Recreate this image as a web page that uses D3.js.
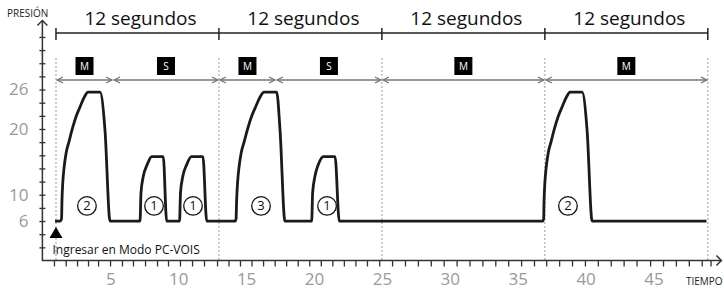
<!DOCTYPE html>
<html>
<head>
<meta charset="utf-8">
<script src="https://cdn.jsdelivr.net/npm/d3@7"></script>
<style>
  body { margin: 0; background: #fff; }
  svg { display: block; font-family: "Open Sans", sans-serif; }
</style>
</head>
<body>
<div id="chart"></div>
<script>
// presion (cmH2O) vs tiempo (s)
const waveT = [0.93, 1.30, 1.41, 1.44, 1.50, 1.60, 1.75, 1.95, 2.20, 2.50, 2.80, 3.10, 3.36, 4.24, 4.61, 4.98,
  7.19, 7.26, 7.43, 7.72, 8.05, 8.90, 9.15,
  10.10, 10.17, 10.34, 10.63, 10.97, 11.82, 12.10,
  14.20, 14.26, 14.30, 14.37, 14.48, 14.64, 14.85, 15.11, 15.42, 15.73, 16.04, 16.32, 17.25, 17.50, 17.86,
  19.83, 19.90, 20.07, 20.32, 20.69, 21.55, 21.86,
  36.85, 36.91, 36.94, 37.00, 37.10, 37.25, 37.45, 37.70, 38.00, 38.30, 38.60, 38.86, 39.74, 40.11, 40.48,
  48.90];
const waveP = [6, 6, 6.3, 9.0, 11.8, 14.2, 16.4, 18.0, 20.0, 22.0, 23.5, 24.9, 25.6, 25.6, 19.8, 6,
  6, 10.3, 12.8, 14.6, 15.8, 15.8, 6,
  6, 10.3, 12.8, 14.6, 15.8, 15.8, 6,
  6, 6.3, 9.0, 11.8, 14.2, 16.4, 18.0, 20.0, 22.0, 23.5, 24.9, 25.6, 25.6, 19.8, 6,
  6, 10.3, 12.8, 14.6, 15.8, 15.8, 6,
  6, 6.3, 9.0, 11.8, 14.2, 16.4, 18.0, 20.0, 22.0, 23.5, 24.9, 25.6, 25.6, 19.8, 6,
  6];

const cycleEdges = [1, 13, 25, 37, 49];
const cycleLabels = ["12 segundos", "12 segundos", "12 segundos", "12 segundos"];

const modeStart = [1, 5.2, 13, 17.2, 25, 37];
const modeEnd = [5.2, 13, 17.2, 25, 37, 49];
const modeName = ["M", "S", "M", "S", "M", "M"];

const breathT = [3.28, 8.22, 11.09, 16.1, 20.96, 38.7];
const breathNum = ["2", "1", "1", "3", "1", "2"];
const breathP = 8.3;

const xLabels = [5, 10, 15, 20, 25, 30, 35, 40, 45];
const xMinor = [0.85, 1.72, 2.55, 3.36, 4.10, 4.98, 5.86, 6.67, 7.56, 8.44, 9.25, 10.13, 11.02, 11.9, 12.86,
  13.7, 14.55, 15.4, 16.25, 17.1, 17.95, 18.8, 19.65, 20.5, 21.35, 22.2, 23.05, 23.9, 24.8,
  25.75, 26.7, 27.65, 28.6, 29.55, 30.5, 31.45, 32.4, 33.35, 34.3, 35.25, 36.2, 37.1,
  38.05, 39.0, 39.95, 40.9, 41.85, 42.8, 43.75, 44.75, 45.7, 46.65, 47.6, 48.55, 49.2];
const yLabels = [6, 10, 20, 26];
const yMinor = [2, 4, 6, 8, 10, 12, 14, 16, 18, 20, 22, 24, 26, 28, 30, 32, 34];

const W = 724, H = 290;
const svg = d3.select("#chart").append("svg").attr("width", W).attr("height", H);

const x = d3.scaleLinear().domain([0, 50]).range([42.4, 721.4]);
const y = d3.scaleLinear().domain([0, 36.5]).range([260.5, 20.5]);

const axisColor = "#333";

// markers
const defs = svg.append("defs");
defs.append("marker").attr("id", "arr")
  .attr("viewBox", "0 0 10 10").attr("refX", 9).attr("refY", 5)
  .attr("markerWidth", 5).attr("markerHeight", 5).attr("orient", "auto-start-reverse")
  .append("path").attr("d", "M1,1 L9,5 L1,9").attr("fill", "none")
  .attr("stroke", "#777").attr("stroke-width", 1.8);

// dotted cycle lines
svg.append("g").selectAll("line").data(cycleEdges).enter().append("line")
  .attr("x1", d => x(d)).attr("x2", d => x(d))
  .attr("y1", 58).attr("y2", y(0))
  .attr("stroke", "#aaa").attr("stroke-width", 1.2).attr("stroke-dasharray", "2,2");

// top bracket
const bracket = svg.append("g");
bracket.append("line").attr("x1", x(cycleEdges[0])).attr("x2", x(cycleEdges[cycleEdges.length - 1]))
  .attr("y1", 33).attr("y2", 33).attr("stroke", "#222").attr("stroke-width", 1.5);
bracket.selectAll("line.tk").data(cycleEdges).enter().append("line").attr("class", "tk")
  .attr("x1", d => x(d)).attr("x2", d => x(d)).attr("y1", 28).attr("y2", 40)
  .attr("stroke", "#222").attr("stroke-width", 1.5);
bracket.selectAll("text").data(cycleLabels).enter().append("text")
  .attr("x", (d, i) => (x(cycleEdges[i]) + x(cycleEdges[i + 1])) / 2 + 3)
  .attr("y", 25).attr("text-anchor", "middle")
  .attr("font-size", 19).attr("fill", "#111").text(d => d);

// mode arrows
const modes = svg.append("g");
modes.selectAll("line").data(modeName).enter().append("line")
  .attr("x1", (d, i) => x(modeStart[i]) + 1).attr("x2", (d, i) => x(modeEnd[i]) - 1)
  .attr("y1", 80).attr("y2", 80)
  .attr("stroke", "#777").attr("stroke-width", 1.5)
  .attr("marker-start", "url(#arr)").attr("marker-end", "url(#arr)");
const tags = modes.selectAll("g.tag").data(modeName).enter().append("g").attr("class", "tag")
  .attr("transform", (d, i) => `translate(${(x(modeStart[i]) + x(modeEnd[i])) / 2},66)`);
tags.append("rect").attr("x", -9).attr("y", -9).attr("width", 18).attr("height", 18).attr("fill", "#000");
tags.append("text").attr("y", 4).attr("text-anchor", "middle")
  .attr("font-size", 10).attr("fill", "#fff").text(d => d);

// y axis
const yAxis = svg.append("g").attr("transform", `translate(${x(0)},0)`)
  .call(d3.axisLeft(y).tickValues(yMinor).tickSize(3)
    .tickFormat(d => yLabels.includes(d) ? d : ""));
yAxis.select(".domain").remove();
yAxis.selectAll(".tick line").attr("x1", 3).attr("x2", -3).attr("stroke", axisColor).attr("stroke-width", 1.3);
yAxis.selectAll(".tick text").attr("x", -14).attr("font-size", 17)
  .attr("font-family", "Open Sans, sans-serif").attr("fill", "#999");

// x axis
const xAxis = svg.append("g").attr("transform", `translate(0,${y(0)})`)
  .call(d3.axisBottom(x).tickValues(xMinor).tickSize(6).tickFormat(""));
xAxis.select(".domain").remove();
xAxis.selectAll(".tick line").attr("stroke", axisColor).attr("stroke-width", 1.3);
const xLab = svg.append("g").attr("transform", `translate(0,${y(0)})`)
  .call(d3.axisBottom(x).tickValues(xLabels).tickSize(0).tickPadding(14));
xLab.select(".domain").remove();
xLab.selectAll(".tick text").attr("font-size", 17).attr("font-family", "Open Sans, sans-serif")
  .attr("fill", "#999").attr("dy", "0.6em");

// axis lines with arrow chevrons
const ax = svg.append("g").attr("fill", "none").attr("stroke", axisColor).attr("stroke-width", 1.5);
ax.append("line").attr("x1", x(0)).attr("x2", x(0)).attr("y1", y(0) + 0.7).attr("y2", y(36.5));
ax.append("path").attr("d", `M${x(0) - 5},${y(36.5) + 5}L${x(0)},${y(36.5)}L${x(0) + 5},${y(36.5) + 5}`);
ax.append("line").attr("x1", x(0)).attr("x2", x(50)).attr("y1", y(0)).attr("y2", y(0));
ax.append("path").attr("d", `M${x(50) - 5},${y(0) - 5}L${x(50)},${y(0)}L${x(50) - 5},${y(0) + 5}`);

svg.append("text").attr("x", 7).attr("y", 16.5).attr("font-size", 10).attr("fill", "#222").text("PRESIÓN");
svg.append("text").attr("x", 686).attr("y", 285).attr("font-size", 10).attr("fill", "#222").text("TIEMPO");

// waveform
const wave = waveT.map((t, i) => [t, waveP[i]]);
svg.append("path").datum(wave)
  .attr("d", d3.line().x(d => x(d[0])).y(d => y(d[1])).curve(d3.curveMonotoneX))
  .attr("fill", "none").attr("stroke", "#1a1a1a").attr("stroke-width", 2.8)
  .attr("stroke-linejoin", "round");

// breath numbers
const bn = svg.append("g").selectAll("g").data(breathNum).enter().append("g")
  .attr("transform", (d, i) => `translate(${x(breathT[i])},${y(breathP)})`);
bn.append("circle").attr("r", 9.3).attr("fill", "#fff").attr("stroke", "#111").attr("stroke-width", 1.3);
bn.append("text").attr("y", 4.5).attr("text-anchor", "middle").attr("font-size", 13).attr("fill", "#111").text(d => d);

// start marker
const t0 = cycleEdges[0];
svg.append("path")
  .attr("d", `M${x(t0)},${227}L${x(t0) + 6.5},${238}L${x(t0) - 6.5},${238}Z`).attr("fill", "#000");
svg.append("text").attr("x", 52.5).attr("y", 254).attr("font-size", 12).attr("fill", "#111")
  .text("Ingresar en Modo PC-VOIS");
</script>
</body>
</html>
